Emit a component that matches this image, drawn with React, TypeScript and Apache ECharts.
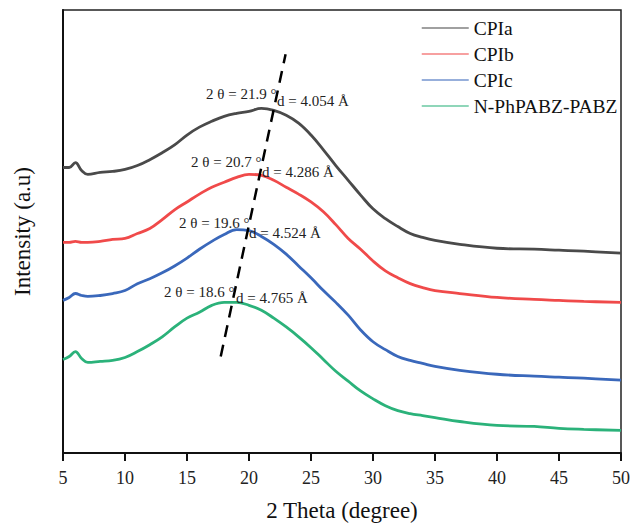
import React, { useEffect, useRef } from "react";
import * as echarts from "echarts";

const twoTheta = [5, 5.5, 6, 6.5, 7, 8, 9, 10, 11, 12, 13, 14, 15, 16, 17, 18, 19, 20, 21, 22, 23, 24, 25, 26, 27, 28, 29, 30, 31, 32, 33, 34, 35, 37, 40, 43, 45, 47, 50];
const cpia = [290, 290, 295, 287, 283, 285, 286, 288, 292, 298, 305, 313, 323, 331, 337, 342, 345, 347, 350, 348, 343, 335, 323, 308, 292, 277, 262, 248, 238, 230, 223, 219, 216, 212, 208, 207, 206, 205, 203];
const cpib = [214, 214, 215, 214, 214, 215, 217, 218, 223, 228, 237, 247, 255, 263, 270, 275, 280, 283, 282, 277, 270, 263, 255, 245, 232, 218, 207, 195, 185, 178, 172, 168, 165, 162, 158, 156, 155, 154, 153];
const cpic = [155, 158, 162, 160, 159, 160, 162, 165, 172, 177, 183, 190, 198, 207, 215, 222, 227, 226, 220, 212, 202, 190, 178, 165, 153, 140, 125, 113, 105, 98, 94, 91, 88, 84, 80, 78, 77, 76, 74];
const nph = [95, 98, 103, 96, 92, 93, 94, 97, 103, 110, 118, 128, 137, 143, 150, 153, 153, 150, 145, 137, 128, 118, 107, 95, 83, 73, 63, 55, 48, 43, 40, 38, 36, 32, 28, 27, 25, 24, 23];
const seriesNames = ["CPIa", "CPIb", "CPIc", "N-PhPABZ-PABZ"];
const seriesColors = ["#4a4a4a", "#f04a4a", "#3a68bb", "#2bb27a"];
const trendLine = [[17.72, 98], [22.95, 405]];
const xTicks = [5, 10, 15, 20, 25, 30, 35, 40, 45, 50];
const annotations = [
  "2 θ = 21.9 °", "d = 4.054 Å",
  "2 θ = 20.7 °", "d = 4.286 Å",
  "2 θ = 19.6 °", "d = 4.524 Å",
  "2 θ = 18.6 °", "d = 4.765 Å",
];

const annPos = [
  [206, 94], [277, 101],
  [191, 162], [262, 172],
  [179, 223], [249, 233],
  [164, 292], [236, 298],
];

export default function App() {
  const ref = useRef<HTMLDivElement>(null);
  useEffect(() => {
    document.body.style.margin = "0";
    const chart = echarts.init(ref.current!, null, { renderer: "svg" });
    const font = "'Liberation Serif', 'Times New Roman', serif";
    const allData = [cpia, cpib, cpic, nph];
    const series: any[] = allData.map((vals, i) => ({
      name: seriesNames[i],
      type: "line",
      data: twoTheta.map((x, j) => [x, vals[j]]),
      symbol: "none",
      smooth: 0.4,
      lineStyle: { color: seriesColors[i], width: 2.8 },
      itemStyle: { color: seriesColors[i] },
      z: 3,
    }));
    series.push({
      name: "trend",
      type: "line",
      data: trendLine,
      symbol: "none",
      lineStyle: { color: "#000", width: 2.5, type: [12, 8] },
      z: 5,
    });
    chart.setOption({
      animation: false,
      textStyle: { fontFamily: font },
      grid: {
        left: 63, right: 11, top: 10, bottom: 67,
        show: true, borderColor: "#222", borderWidth: 1.5,
      },
      legend: {
        data: seriesNames,
        orient: "vertical",
        left: 416,
        top: 13,
        itemWidth: 47,
        itemHeight: 20,
        itemGap: 6,
        itemStyle: { opacity: 0 },
        lineStyle: { width: 1.5, opacity: 0.7 },
        textStyle: { fontSize: 19.5, color: "#111", fontFamily: font },
      },
      xAxis: {
        type: "value",
        min: 5,
        max: 50,
        interval: 5,
        axisLine: { show: true, lineStyle: { color: "#111", width: 2 } },
        axisTick: { show: true, length: 8, lineStyle: { color: "#111", width: 2 } },
        splitLine: { show: false },
        axisLabel: {
          fontSize: 18, color: "#222", margin: 16, fontFamily: font,
          customValues: xTicks,
        },
        name: "2 Theta (degree)",
        nameLocation: "middle",
        nameGap: 46,
        nameTextStyle: { fontSize: 23, color: "#111", fontFamily: font },
      },
      yAxis: {
        type: "value",
        min: 0,
        max: 450,
        axisLine: { show: true, lineStyle: { color: "#111", width: 2 } },
        axisTick: { show: false },
        axisLabel: { show: false },
        splitLine: { show: false },
        name: "Intensity (a.u)",
        nameLocation: "middle",
        nameGap: 29,
        nameTextStyle: { fontSize: 23, color: "#111", fontFamily: font },
      },
      series,
      graphic: annotations.map((t, i) => ({
        type: "text",
        x: annPos[i][0],
        y: annPos[i][1],
        z: 10,
        style: {
          text: t,
          fill: "#222",
          font: `15px ${font}`,
          verticalAlign: "middle",
        },
      })),
    });
    return () => chart.dispose();
  }, []);
  return <div ref={ref} style={{ width: 633, height: 527 }} />;
}
